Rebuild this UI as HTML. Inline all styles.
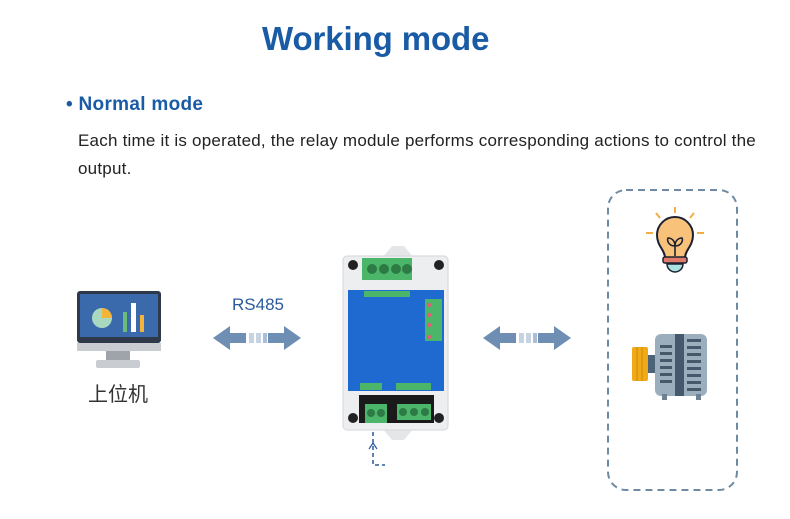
<!DOCTYPE html>
<html><head><meta charset="utf-8"><style>
body{margin:0;width:790px;height:519px;background:#fff;position:relative;overflow:hidden;font-family:"Liberation Sans","Noto Sans CJK SC",sans-serif}
.t{position:absolute;white-space:nowrap}
</style></head><body>
<div class="t" style="left:262px;top:20px;font-size:33px;font-weight:bold;color:#1a5ba6;letter-spacing:-0.1px">Working mode</div>
<div class="t" style="left:66px;top:94px;font-size:19px;font-weight:bold;color:#1a5ba6;letter-spacing:0.3px">• Normal mode</div>
<div class="t" style="left:78px;top:127px;font-size:17px;color:#222;line-height:28px;letter-spacing:0.22px">Each time it is operated, the relay module performs corresponding actions to control the<br>output.</div>
<div class="t" style="left:232px;top:295px;font-size:17px;color:#2a5a9a">RS485</div>
<div class="t" style="left:88px;top:378px;font-size:20px;color:#333">上位机</div>
<svg width="790" height="519" style="position:absolute;left:0;top:0">
<rect x="77" y="291" width="84" height="52" rx="3" fill="#2e3a4a"/>
<rect x="80" y="294" width="78" height="43" fill="#3a6aab"/>
<rect x="77" y="343" width="84" height="8" fill="#c9cdd2"/>
<rect x="106" y="351" width="24" height="9" fill="#9ea4aa"/>
<rect x="96" y="360" width="44" height="8" rx="2" fill="#c9cdd2"/>
<circle cx="102" cy="318" r="10" fill="#a8d8c0"/>
<path d="M102 318 L102 308 A10 10 0 0 1 112 318 Z" fill="#f2b53a"/>
<rect x="123" y="312" width="4" height="20" fill="#6dbb7a"/>
<rect x="131" y="303" width="5" height="29" fill="#fff"/>
<rect x="140" y="315" width="4" height="17" fill="#f2b53a"/>
<g fill="#6e8fb3">
<polygon points="213,338 230,326 230,333 246,333 246,343 230,343 230,350"/>
<polygon points="301,338 284,326 284,333 268,333 268,343 284,343 284,350"/>
<rect x="249" y="333" width="5" height="10" fill="#c6d3e2"/><rect x="256" y="333" width="5" height="10" fill="#c6d3e2"/><rect x="263" y="333" width="4" height="10" fill="#aabed5"/>
<polygon points="483,338 500,326 500,333 516,333 516,343 500,343 500,350"/>
<polygon points="571,338 554,326 554,333 538,333 538,343 554,343 554,350"/>
<rect x="519" y="333" width="5" height="10" fill="#c6d3e2"/><rect x="526" y="333" width="5" height="10" fill="#c6d3e2"/><rect x="533" y="333" width="4" height="10" fill="#aabed5"/>
</g>
<polygon points="382,258 392,246 404,246 414,258" fill="#e4e6e8"/>
<polygon points="382,428 392,440 404,440 414,428" fill="#e4e6e8"/>
<rect x="343" y="256" width="105" height="174" rx="4" fill="#eceef0" stroke="#d4d6d8"/>
<circle cx="353" cy="265" r="5" fill="#222"/><circle cx="439" cy="265" r="5" fill="#222"/>
<circle cx="353" cy="418" r="5" fill="#222"/><circle cx="439" cy="418" r="5" fill="#222"/>
<rect x="362" y="258" width="50" height="22" fill="#4bb56a"/>
<circle cx="372" cy="269" r="5" fill="#2d7a45"/><circle cx="384" cy="269" r="5" fill="#2d7a45"/><circle cx="396" cy="269" r="5" fill="#2d7a45"/><circle cx="407" cy="269" r="5" fill="#2d7a45"/>
<rect x="348" y="290" width="96" height="101" fill="#1e6ad0"/>
<rect x="364" y="291" width="46" height="6" fill="#4bb56a"/>
<rect x="425" y="299" width="17" height="42" fill="#4bb56a"/>
<circle cx="429" cy="305" r="2" fill="#e57"/><circle cx="429" cy="315" r="2" fill="#e57"/><circle cx="429" cy="325" r="2" fill="#e57"/><circle cx="429" cy="337" r="2" fill="#e57"/>
<rect x="360" y="383" width="22" height="7" fill="#4bb56a"/><rect x="396" y="383" width="35" height="7" fill="#4bb56a"/>
<rect x="359" y="395" width="75" height="28" fill="#1a1a1a"/>
<rect x="365" y="404" width="22" height="19" fill="#4bb56a"/>
<circle cx="371" cy="413" r="4" fill="#2d7a45"/><circle cx="381" cy="413" r="4" fill="#2d7a45"/>
<rect x="397" y="404" width="34" height="16" fill="#4bb56a"/>
<circle cx="403" cy="412" r="4" fill="#2d7a45"/><circle cx="414" cy="412" r="4" fill="#2d7a45"/><circle cx="425" cy="412" r="4" fill="#2d7a45"/>
<path d="M373 432 V465 H385" stroke="#2a5a9a" stroke-width="1.5" stroke-dasharray="4,3" fill="none"/>
<path d="M369 449 L373 443 L377 449" stroke="#2a5a9a" stroke-width="1.2" fill="none"/>
<rect x="608" y="190" width="129" height="300" rx="18" fill="none" stroke="#6f8aa3" stroke-width="2" stroke-dasharray="7,5"/>
<g stroke="#f5ac43" stroke-width="2"><line x1="675" y1="207" x2="675" y2="213"/><line x1="656" y1="213" x2="660" y2="218"/><line x1="694" y1="213" x2="690" y2="218"/><line x1="646" y1="233" x2="653" y2="233"/><line x1="697" y1="233" x2="704" y2="233"/></g>
<path d="M665 258 C665 250 657 246 657 235 A18 18 0 0 1 693 235 C693 246 685 250 685 258 Z" fill="#f8c27a" stroke="#1d2030" stroke-width="2"/>
<rect x="663" y="257" width="24" height="6" rx="2" fill="#e07a6a" stroke="#1d2030" stroke-width="1.5"/>
<path d="M667 264 H683 A8 8 0 0 1 667 264 Z" fill="#a8e2e2" stroke="#1d2030" stroke-width="1.5"/>
<path d="M675 256 V242 M675 246 C668 246 667 240 668 238 C672 238 675 241 675 246 C682 246 683 240 682 238 C678 238 675 241 675 246" stroke="#1d2030" stroke-width="1.6" fill="none"/>
<rect x="632" y="347" width="16" height="34" rx="2" fill="#f1a91a"/>
<line x1="637" y1="347" x2="637" y2="381" stroke="#d08a00"/><line x1="642" y1="347" x2="642" y2="381" stroke="#d08a00"/>
<rect x="648" y="355" width="8" height="18" fill="#4c6478"/>
<rect x="655" y="334" width="52" height="62" rx="6" fill="#9aaebe"/>
<rect x="675" y="334" width="9" height="62" fill="#44596c"/>
<g fill="#44596c"><rect x="660" y="345" width="12" height="3"/><rect x="660" y="352" width="12" height="3"/><rect x="660" y="359" width="12" height="3"/><rect x="660" y="366" width="12" height="3"/><rect x="660" y="373" width="12" height="3"/><rect x="660" y="380" width="12" height="3"/>
<rect x="687" y="339" width="14" height="3"/><rect x="687" y="346" width="14" height="3"/><rect x="687" y="353" width="14" height="3"/><rect x="687" y="360" width="14" height="3"/><rect x="687" y="367" width="14" height="3"/><rect x="687" y="374" width="14" height="3"/><rect x="687" y="381" width="14" height="3"/><rect x="687" y="388" width="14" height="3"/></g>
<rect x="662" y="394" width="5" height="6" fill="#6e8294"/><rect x="696" y="394" width="5" height="6" fill="#6e8294"/>
</svg>
</body></html>
